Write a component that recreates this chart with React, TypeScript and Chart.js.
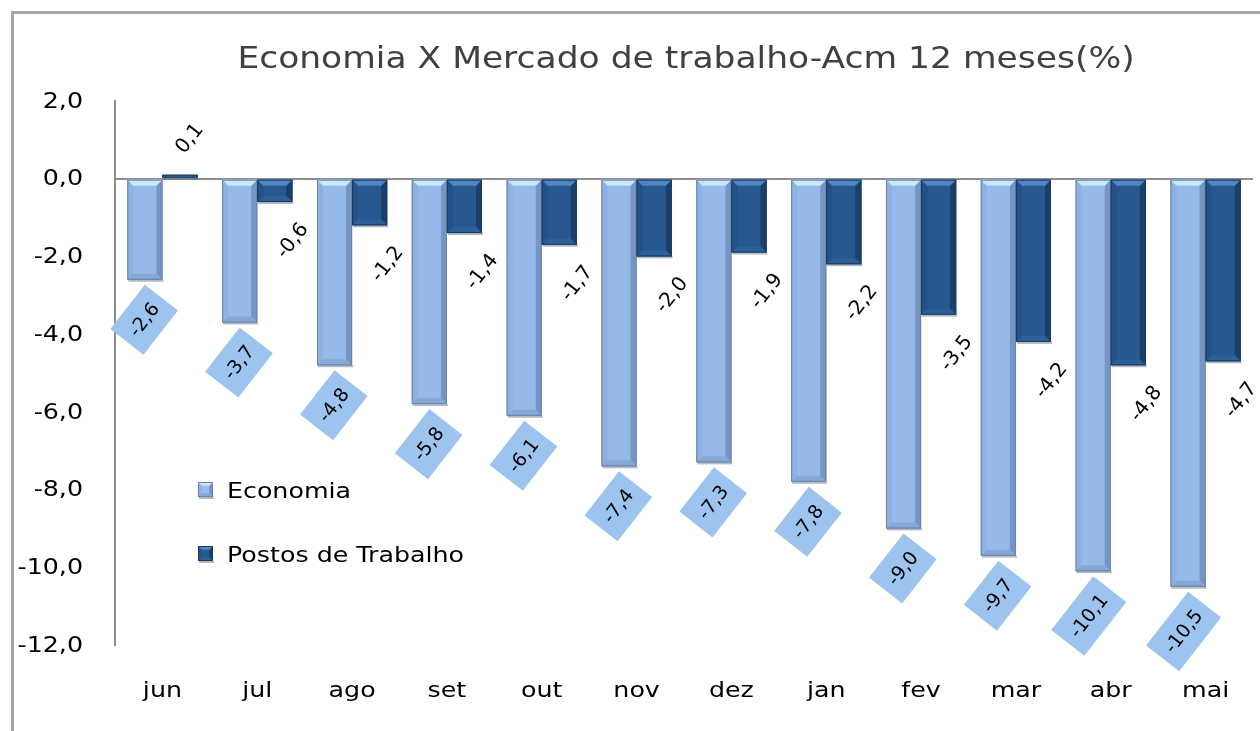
import React, { useEffect, useRef } from "react";
import { Chart, registerables } from "chart.js";

Chart.register(...registerables);

const categories = ["jun", "jul", "ago", "set", "out", "nov", "dez", "jan", "fev", "mar", "abr", "mai"];
const economia = [-2.6, -3.7, -4.8, -5.8, -6.1, -7.4, -7.3, -7.8, -9.0, -9.7, -10.1, -10.5];
const postos = [0.1, -0.6, -1.2, -1.4, -1.7, -2.0, -1.9, -2.2, -3.5, -4.2, -4.8, -4.7];
const seriesNames = ["Economia", "Postos de Trabalho"];
const yMin = -12;
const yMax = 2;
const yStep = 2;
const titleText = "Economia X Mercado de trabalho-Acm 12 meses(%)";

const FONT = '"DejaVu Sans", "Noto Sans", sans-serif';
const SX = 1.15;

const fmt = (v: number) => v.toFixed(1).replace(".", ",");

type Pal = { main: string; top: string; left: string; right: string; bottom: string; line: string };
const palE: Pal = { main: "#95B9E8", top: "#C9E6FD", left: "#8DB1E0", right: "#7595C2", bottom: "#86A8D6", line: "#6A84A8" };
const palP: Pal = { main: "#27588F", top: "#4F86C4", left: "#245288", right: "#1B3F69", bottom: "#2D5F99", line: "#1A3A60" };

function stretchText(ctx: CanvasRenderingContext2D, s: string, x: number, y: number, align: string, font: string, color: string, sx = SX, baseline: CanvasTextBaseline = "alphabetic") {
  ctx.save();
  ctx.font = font;
  ctx.fillStyle = color;
  ctx.textBaseline = baseline;
  ctx.textAlign = "left";
  const w = ctx.measureText(s).width * sx;
  const left = align === "center" ? x - w / 2 : align === "right" ? x - w : x;
  ctx.translate(left, y);
  ctx.scale(sx, 1);
  ctx.fillText(s, 0, 0);
  ctx.restore();
}

function poly(ctx: CanvasRenderingContext2D, pts: number[][], color: string) {
  ctx.beginPath();
  ctx.moveTo(pts[0][0], pts[0][1]);
  for (let i = 1; i < pts.length; i++) ctx.lineTo(pts[i][0], pts[i][1]);
  ctx.closePath();
  ctx.fillStyle = color;
  ctx.fill();
}

function bevelBox(ctx: CanvasRenderingContext2D, l: number, t: number, r: number, b: number, p: Pal) {
  const h = b - t;
  const w = r - l;
  const d = Math.max(1, Math.min(6, h / 2, w / 4));
  ctx.save();
  ctx.fillStyle = p.main;
  ctx.fillRect(l, t, w, h);
  poly(ctx, [[l, t], [l + d, t + d], [l + d, b - d], [l, b]], p.left);
  poly(ctx, [[r, t], [r - d, t + d], [r - d, b - d], [r, b]], p.right);
  poly(ctx, [[l, b], [l + d, b - d], [r - d, b - d], [r, b]], p.bottom);
  poly(ctx, [[l, t], [r, t], [r - d, t + d], [l + d, t + d]], p.top);
  ctx.strokeStyle = p.line;
  ctx.lineWidth = 1;
  ctx.strokeRect(l + 0.5, t + 0.5, w - 1, h - 1);
  ctx.fillStyle = "rgba(90,100,120,0.45)";
  ctx.fillRect(l + 1, b, w, 2);
  ctx.restore();
}

const customPlugin = {
  id: "customDraw",
  beforeDraw(chart: any) {
    const ctx = chart.ctx as CanvasRenderingContext2D;
    ctx.save();
    ctx.fillStyle = "#FFFFFF";
    ctx.fillRect(0, 0, chart.width, chart.height);
    ctx.strokeStyle = "#A6A6A6";
    ctx.lineWidth = 3;
    ctx.beginPath();
    ctx.moveTo(12.5, chart.height);
    ctx.lineTo(12.5, 12.5);
    ctx.lineTo(chart.width, 12.5);
    ctx.stroke();
    ctx.restore();
  },
  afterDatasetsDraw(chart: any) {
    const ctx = chart.ctx as CanvasRenderingContext2D;
    const pals = [palE, palP];
    [0, 1].forEach((di) => {
      const meta = chart.getDatasetMeta(di);
      meta.data.forEach((bar: any) => {
        const w = bar.width;
        const l = bar.x - w / 2;
        const r = bar.x + w / 2;
        const t = Math.min(bar.y, bar.base);
        const b = Math.max(bar.y, bar.base);
        bevelBox(ctx, l, t, r, b, pals[di]);
      });
    });

    // data labels
    const ang = (-52 * Math.PI) / 180;
    const c = Math.cos(-ang);
    const s = Math.sin(-ang);
    const metaE = chart.getDatasetMeta(0);
    metaE.data.forEach((bar: any, i: number) => {
      const str = fmt(economia[i]);
      ctx.save();
      ctx.font = `19px ${FONT}`;
      const tw = ctx.measureText(str).width;
      const w = tw + 19;
      const h = 42;
      const cornerX = bar.x;
      const cornerY = bar.y + 5;
      const cx = cornerX - (w * c) / 2 + (h * s) / 2;
      const cy = cornerY + (w * s) / 2 + (h * c) / 2;
      ctx.translate(cx, cy);
      ctx.rotate(ang);
      ctx.fillStyle = "#9DC3EF";
      ctx.fillRect(-w / 2, -h / 2, w, h);
      ctx.fillStyle = "#000000";
      ctx.textAlign = "center";
      ctx.textBaseline = "middle";
      ctx.fillText(str, 0, 1);
      ctx.restore();
    });
    const metaP = chart.getDatasetMeta(1);
    metaP.data.forEach((bar: any, i: number) => {
      const v = postos[i];
      const str = fmt(v);
      const cx = v >= 0 ? bar.x + 10 : bar.x + 18;
      const cy = v >= 0 ? bar.y - 36 : bar.y + 39;
      ctx.save();
      ctx.font = `20px ${FONT}`;
      ctx.translate(cx, cy);
      ctx.rotate(ang);
      ctx.fillStyle = "#000000";
      ctx.textAlign = "center";
      ctx.textBaseline = "middle";
      ctx.fillText(str, 0, 0);
      ctx.restore();
    });
  },
  afterDraw(chart: any) {
    const ctx = chart.ctx as CanvasRenderingContext2D;
    // title
    stretchText(ctx, titleText, 686, 68, "center", `30px ${FONT}`, "#404040");
    // y tick labels
    const ys = chart.scales.y;
    ys.ticks.forEach((tk: any) => {
      const py = ys.getPixelForValue(tk.value);
      stretchText(ctx, fmt(tk.value), 83, py + 1, "right", `22px ${FONT}`, "#000000", SX, "middle");
    });
    // x tick labels
    const xs = chart.scales.x;
    categories.forEach((lab, i) => {
      const px = xs.getPixelForTick(i);
      stretchText(ctx, lab, px, 697, "center", `22px ${FONT}`, "#000000");
    });
    // legend
    const items = [
      { name: seriesNames[0], pal: palE, y: 482 },
      { name: seriesNames[1], pal: palP, y: 546 },
    ];
    items.forEach((it) => {
      bevelBox(ctx, 198, it.y, 213, it.y + 15, it.pal);
      stretchText(ctx, it.name, 227, it.y + 16, "left", `22px ${FONT}`, "#000000");
    });
  },
};

export default function App() {
  const ref = useRef<HTMLCanvasElement | null>(null);
  useEffect(() => {
    document.documentElement.style.overflow = "hidden";
    document.body.style.overflow = "hidden";
    if (!ref.current) return;
    const chart = new Chart(ref.current, {
      type: "bar",
      data: {
        labels: categories,
        datasets: [
          { label: seriesNames[0], data: economia, backgroundColor: palE.main, borderWidth: 0 },
          { label: seriesNames[1], data: postos, backgroundColor: palP.main, borderWidth: 0 },
        ],
      },
      options: {
        responsive: false,
        animation: false,
        devicePixelRatio: 1,
        layout: { padding: { top: 101, right: 7, left: 0, bottom: 0 } },
        datasets: { bar: { categoryPercentage: 0.74, barPercentage: 1 } },
        scales: {
          x: {
            grid: { display: false },
            border: { display: false },
            ticks: { display: false },
            afterFit: (s: any) => {
              s.height = 86;
            },
          },
          y: {
            min: yMin,
            max: yMax,
            ticks: { display: false, stepSize: yStep },
            grid: {
              drawTicks: false,
              lineWidth: 2,
              color: (c: any) => (c.tick && c.tick.value === 0 ? "#8C8C8C" : "rgba(0,0,0,0)"),
            },
            border: { display: true, color: "#8C8C8C", width: 2 },
            afterFit: (s: any) => {
              s.width = 115;
            },
          },
        },
        plugins: {
          legend: { display: false },
          tooltip: { enabled: false },
          title: { display: false },
        },
      } as any,
      plugins: [customPlugin],
    });
    return () => chart.destroy();
  }, []);
  return (
    <div style={{ position: "fixed", left: 0, top: 0, width: 1260, height: 731, overflow: "hidden" }}>
      <canvas ref={ref} width={1260} height={731} style={{ display: "block" }} />
    </div>
  );
}
